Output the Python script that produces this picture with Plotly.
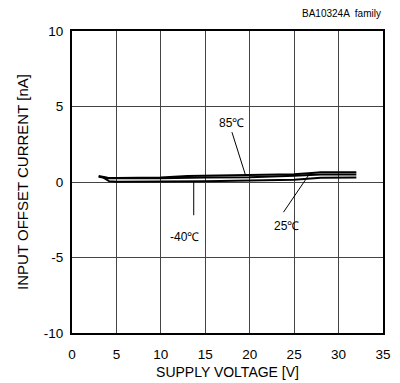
import plotly.graph_objects as go

v85 = [3.0, 4.0, 5.0, 10.0, 13.0, 15.0, 20.0, 25.0, 27.0, 28.0, 32.0]
i85 = [0.40, 0.28, 0.27, 0.30, 0.40, 0.42, 0.50, 0.52, 0.60, 0.65, 0.65]
v25 = [3.0, 4.0, 5.0, 10.0, 15.0, 20.0, 25.0, 28.0, 32.0]
i25 = [0.35, 0.25, 0.25, 0.25, 0.30, 0.32, 0.42, 0.50, 0.50]
vm40 = [3.5, 4.2, 5.0, 10.0, 15.0, 20.0, 25.0, 28.0, 32.0]
im40 = [0.30, 0.05, 0.02, 0.02, 0.05, 0.10, 0.15, 0.28, 0.30]

x_ticks = [0, 5, 10, 15, 20, 25, 30, 35]
x_labels = ["0", "5", "10", "15", "20", "25", "30", "35"]
y_ticks = [-10, -5, 0, 5, 10]
y_labels = ["-10", "-5", "0", "5", "10"]

fig = go.Figure()
for xs, ys in [(v85, i85), (v25, i25), (vm40, im40)]:
    fig.add_trace(go.Scatter(x=xs, y=ys, mode="lines",
                             line=dict(color="black", width=2), showlegend=False))

# leader lines
leaders = [((18.0, 3.3), (19.5, 0.5)), ((13.7, -2.2), (13.7, 0.05)), ((23.8, -2.0), (26.8, 0.6))]
for (x0, y0), (x1, y1) in leaders:
    fig.add_trace(go.Scatter(x=[x0, x1], y=[y0, y1], mode="lines",
                             line=dict(color="black", width=1), showlegend=False))

font = "Liberation Sans, Arial, sans-serif"
for txt, x, y in [("85℃", 18.0, 3.9), ("-40℃", 12.7, -3.65), ("25℃", 24.1, -2.9)]:
    fig.add_annotation(x=x, y=y, text=txt, showarrow=False,
                       font=dict(family=font, size=12, color="black"))

fig.add_annotation(x=1, y=1, xref="paper", yref="paper", xanchor="right", yanchor="bottom",
                   yshift=10, text="BA10324A  family", showarrow=False,
                   font=dict(family=font, size=10, color="black"))

# page body has an 8px default margin, so size/margins compensate for it
fig.update_layout(
    width=392, height=375,
    margin=dict(l=64, r=17, t=23, b=50),
    plot_bgcolor="white", paper_bgcolor="white",
    font=dict(family=font, size=13.5, color="black"),
)
fig.update_xaxes(range=[0, 35], tickvals=x_ticks, ticktext=x_labels, showgrid=True,
                 gridcolor="#444444", gridwidth=1, automargin=False,
                 showline=True, linecolor="black", linewidth=2, mirror=True, zeroline=False,
                 ticks="outside", ticklen=8, tickcolor="rgba(0,0,0,0)",
                 title=dict(text="SUPPLY VOLTAGE [V]", font=dict(size=14), standoff=6))
fig.update_yaxes(range=[-10, 10], tickvals=y_ticks, ticktext=y_labels, showgrid=True,
                 gridcolor="#444444", gridwidth=1, automargin=False,
                 showline=True, linecolor="black", linewidth=2, mirror=True, zeroline=False,
                 ticks="outside", ticklen=4, tickcolor="rgba(0,0,0,0)",
                 title=dict(text="INPUT OFFSET CURRENT [nA]", font=dict(size=15), standoff=12))

fig.write_html("out.html")
